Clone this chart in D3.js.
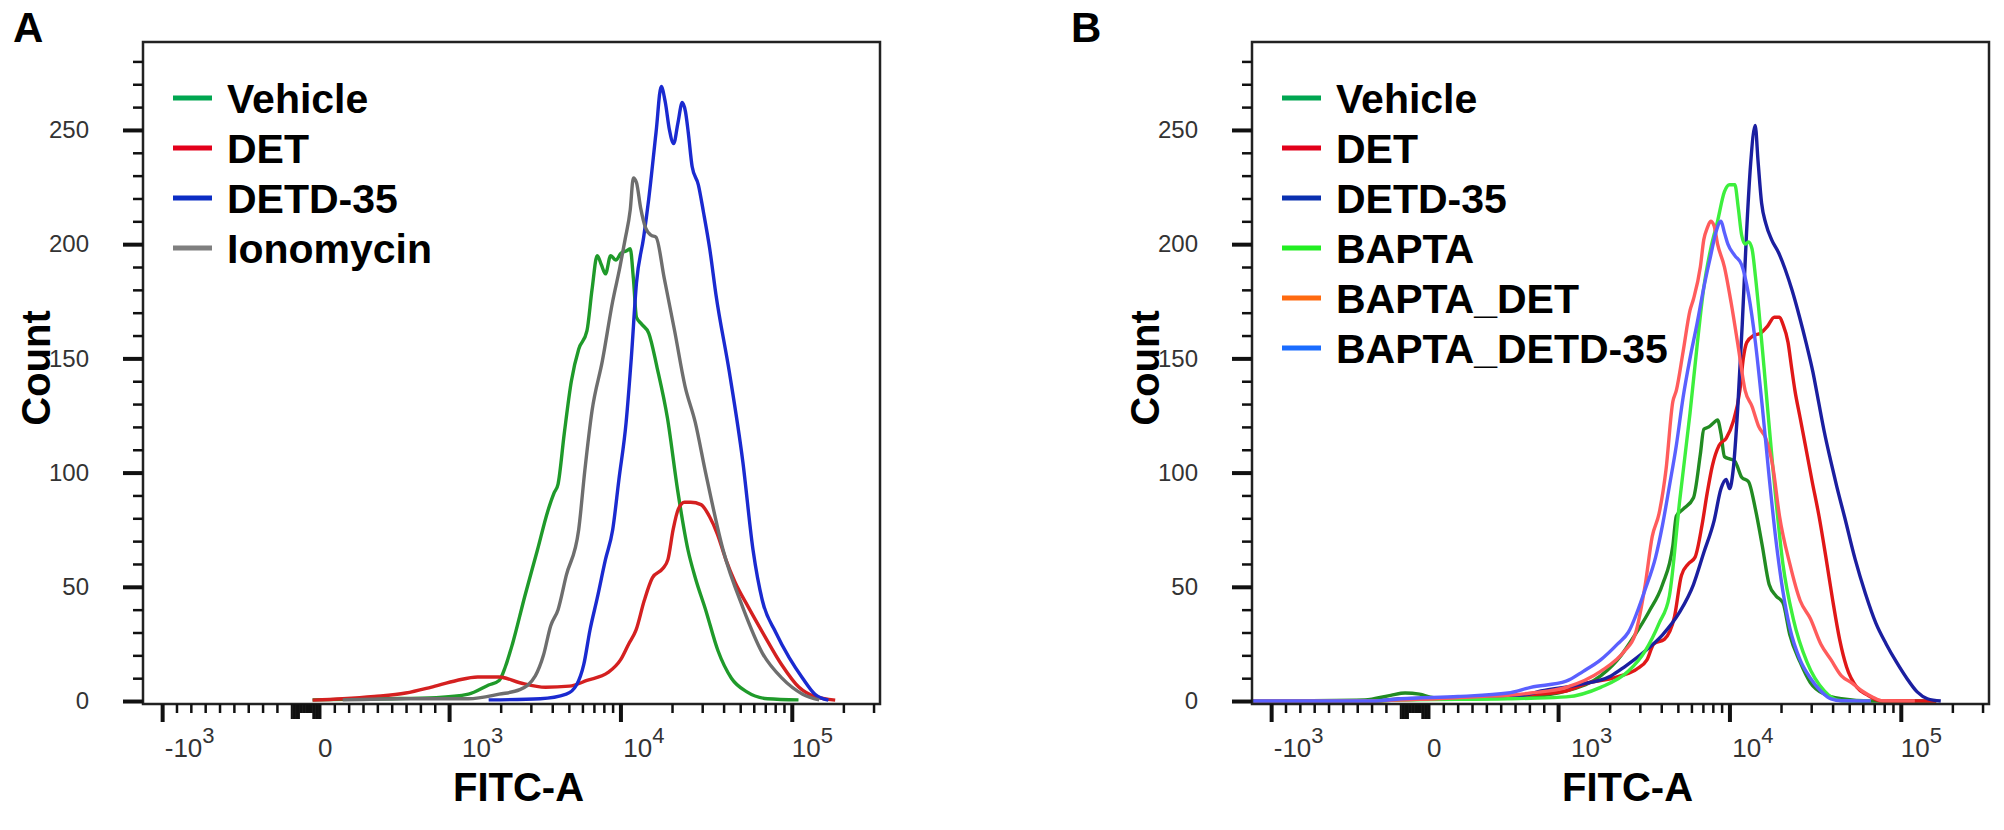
<!DOCTYPE html>
<html>
<head>
<meta charset="utf-8">
<script src="https://cdn.jsdelivr.net/npm/d3@7.9.0/dist/d3.min.js"></script>
<style>
  html, body { margin: 0; padding: 0; background: #fff; }
  svg { display: block; font-family: "Liberation Sans", Arial, sans-serif; }
</style>
</head>
<body>
<svg id="chart" width="2004" height="830"></svg>
<script>
// FITC-A histogram overlays (flow cytometry), two panels sharing one axis layout

// --- series names ---
const namesA = ["Vehicle", "DET", "DETD-35", "Ionomycin"];
const namesB = ["Vehicle", "DET", "DETD-35", "BAPTA", "BAPTA_DET", "BAPTA_DETD-35"];

// --- panel A curves: [FITC-A, count] ---
const vehicleA = [[45,0.5],[545,1],[906,1.5],[1288,3],[1690,7],[1947,9],[2115,15],[2328,25],[2750,46],[3253,66],[3737,83],[4067,91],[4296,95],[4667,117],[5135,140],[5667,154],[6331,162],[6778,180],[7270,195],[7685,191],[8125,187],[8708,195],[9336,193],[9998,196],[10720,197],[11330,198],[11820,185],[12320,168],[13200,165],[14540,161],[16250,146],[18670,124],[21450,92],[24640,66],[27150,54],[31190,40],[36850,22],[44130,10],[54340,4],[71700,1],[108700,0.5]];
const detA = [[45,0.4],[255,1],[475,2],[694,3.5],[868,6],[1099,9],[1459,10.5],[1947,10.5],[2568,8],[3630,6],[4994,6.5],[6331,9],[8420,12.5],[9939,18],[11100,25],[12240,31],[13680,44],[15280,54],[17550,58],[18810,62],[20160,75],[21610,84],[23500,87],[25520,87],[29320,86],[32750,81],[36590,73],[40910,62],[46350,52],[55510,41],[68330,29],[86520,16],[109500,6],[134900,2],[178000,0.4]];
const detd35A = [[1690,0.5],[3386,1],[4797,3],[5505,7],[6070,16],[6594,31],[7270,45],[8125,62],[8950,75],[9732,97],[10720,122],[11490,150],[12320,183],[13570,203],[14540,220],[16030,249],[17180,269],[18160,262],[19190,250],[20300,244],[21500,253],[22800,262],[23800,258],[24700,249],[26030,234],[28300,226],[30320,214],[32970,198],[35840,178],[42920,144],[51400,105],[59040,66],[66880,44],[80110,30],[95920,19],[114900,10],[135600,3],[162500,0.4]];
const ionomycinA = [[255,0.5],[694,1],[1288,1],[1947,3],[2568,5],[3164,11],[3529,20],[3892,33],[4296,40],[4797,55],[5667,75],[6156,101],[6778,127],[7796,149],[8950,175],[9865,190],[10570,202],[11330,215],[11820,229],[12320,227],[13020,216],[13950,207],[14950,204],[16030,203],[17900,185],[20580,162],[23630,138],[27150,122],[31190,100],[39500,66],[51400,41],[66880,21],[87040,10],[114900,3],[143500,0.5]];

// --- panel B curves: [FITC-A, count] ---
const vehicleB = [[-1302,0],[-350,0.5],[-170,2.5],[-70,3.5],[30,3],[130,1.5],[400,1],[700,1.5],[806,1.8],[1107,4.4],[1759,11],[2318,20],[2794,29],[3361,39],[4040,51],[4641,68],[4867,81],[5331,84],[6128,89],[6718,108],[7037,119],[7539,120],[8084,122],[8469,123],[8867,117],[9289,107],[9955,106],[10680,105],[11700,98],[12840,96],[14080,84],[15440,68],[16940,51],[18580,46],[20380,43],[22360,29],[25680,17],[29500,8],[35540,3],[44740,1],[66490,0],[160000,0]];
const detB = [[-1302,0],[-300,0],[-100,0.5],[209,1],[647,1.5],[806,2.7],[1107,4.4],[1495,8],[1970,9.6],[2375,11.3],[2857,14],[3278,18],[3596,25],[4137,27],[4747,37],[5209,55],[5710,60],[6261,63],[6871,77],[7364,91],[7896,103],[8653,112],[9503,115],[10420,122],[11430,136],[11970,150],[12540,157],[13760,160],[15100,161],[16540,164],[18150,168],[19450,168],[20370,165],[21830,157],[22890,146],[23940,136],[25680,124],[27540,112],[30210,96],[33090,81],[36300,63],[39810,44],[43660,27],[47890,15],[55020,6],[63230,2.7],[76100,0.1],[160000,0]];
const detd35B = [[-1302,0],[-300,0],[-100,1],[400,1.5],[750,2.5],[878,4.4],[1272,7],[2021,11],[2428,15],[3210,22],[4044,29],[5093,39],[6126,51],[7041,65],[8086,79],[8872,93],[9500,97],[9954,93],[10440,101],[11100,128],[11800,165],[12500,205],[13200,235],[14040,252],[14600,236],[15300,218],[16200,209],[17500,202],[19300,196],[21000,189],[23000,180],[25500,168],[28000,156],[30500,144],[32900,131],[35500,118],[38500,106],[42000,94],[46880,80],[53820,62],[61790,47],[71160,34],[81560,25],[93800,17],[107600,10],[123800,4],[142100,1],[170000,0]];
const baptaB = [[-1302,0],[-300,0],[-100,0.5],[647,1],[806,1.2],[1107,1.8],[1759,6],[2548,13],[3205,22],[3857,34],[4431,46],[5095,88],[5847,126],[6420,155],[7037,181],[7722,198],[8463,210],[9289,223],[9955,226],[10680,226],[11180,216],[11700,204],[12260,200],[12840,201],[13450,198],[14080,186],[14750,171],[15810,146],[17760,103],[20380,60],[23420,36],[28170,17],[35540,4.4],[44740,0.1],[66490,0]];
const baptaDetB = [[-1302,0],[-300,0],[-100,0.5],[150,1],[450,2],[647,2.5],[806,3.5],[1107,6],[1759,13],[2432,22],[2794,29],[3205,51],[3518,72],[3857,82],[4231,101],[4641,131],[4867,136],[5331,153],[5847,171],[6128,176],[6718,190],[7037,202],[7366,207],[7722,210],[8084,208],[8469,200],[9289,190],[10180,174],[11180,155],[12260,136],[13450,129],[14750,120],[16190,115],[17760,103],[19460,81],[22360,60],[25680,44],[29500,36],[33890,25],[38930,18],[44740,11],[51370,8],[59030,4.4],[67820,1.8],[77900,0.1],[120000,0]];
const baptaDetd35B = [[-1302,0],[-300,0],[-100,1],[300,2],[647,3.5],[806,6],[1107,8.7],[1393,13],[1759,18],[2212,25],[2548,30],[3205,49],[3684,63],[4040,77],[4431,94],[4867,112],[5331,133],[5847,150],[6420,165],[7037,181],[7722,195],[8268,205],[8867,210],[9289,205],[9730,200],[10680,195],[11700,191],[12840,178],[14080,157],[15440,129],[16940,98],[18580,70],[20380,48],[22360,32],[25680,18],[29500,10],[33890,4.4],[38930,0.9],[44740,0.1],[66490,0]];

// --- axis ticks and labels ---
const yMajorTicks = [0, 50, 100, 150, 200, 250];
const yMinorTicks = d3.range(10, 290, 10).filter(d => d % 50 !== 0);
const xLabelValues = [-1000, 0, 1000, 10000, 100000];
const xLabelBase = ["-10", "0", "10", "10", "10"];
const xLabelExp = ["3", "", "3", "4", "5"];
const xLabelShift = [27, 19, 33, 23, 20]; // label centre sits right of its tick

// --- colours ---
const legendColorsA = ["#00a650", "#e3001b", "#0b2dc4", "#7f7f7f"];
const curveColorsA = ["#1f9a2a", "#d42020", "#1a2ad0", "#6e6e6e"];
const legendColorsB = ["#00a651", "#e2001a", "#0a30b0", "#22ee22", "#ff6a10", "#1a6cff"];
const curveColorsB = ["#228b22", "#e01818", "#1b1fa0", "#3def3d", "#ff5c5c", "#5a60ff"];

// --- layout ---
const panels = [
  { letter: "A", letterX: 13, left: 143, names: namesA, data: [vehicleA, detA, detd35A, ionomycinA], legend: legendColorsA, curve: curveColorsA },
  { letter: "B", letterX: 1071, left: 1252, names: namesB, data: [vehicleB, detB, detd35B, baptaB, baptaDetB, baptaDetd35B], legend: legendColorsB, curve: curveColorsB }
];
const frameTop = 42, frameBottom = 704, frameWidth = 737;

// biexponential-style display: linear around zero, log above 10^3
const K = 139 / 166;
function biex(v) {
  const a = Math.abs(v);
  if (a <= 1000) return v / 1000 * K;
  return Math.sign(v) * (K + Math.log10(a / 1000));
}
const xMin = -1302, xMax = 325000;

const x = d3.scaleLinear().domain([biex(xMin), biex(xMax)]).range([0, frameWidth]);
const y = d3.scaleLinear().domain([-1.3, 288.5]).range([frameBottom, frameTop]);
const xp = v => x(biex(v));

// tick sets along the FITC-A axis
const xMajorTicks = [-1000, 1000, 10000, 100000];
let xBlobTall = [], xBlobShort = [], xMinorTicks = [];
for (let k = 10; k <= 100; k += 10) {
  (k >= 50 ? xBlobTall : xBlobShort).push(k, -k);
}
xBlobShort.push(0);
for (let k = 200; k <= 900; k += 100) xMinorTicks.push(k, -k);
for (let d of [1000, 10000]) for (let m = 2; m <= 9; m++) xMinorTicks.push(m * d);
xMinorTicks.push(200000, 300000);

const svg = d3.select("#chart");
svg.append("rect").attr("width", 2004).attr("height", 830).attr("fill", "#fff");

const line = d3.line()
  .x(d => xp(d[0]))
  .y(d => y(d[1]))
  .curve(d3.curveMonotoneX);

panels.forEach((p, pi) => {
  const g = svg.append("g").attr("transform", `translate(${p.left},0)`);

  svg.append("clipPath").attr("id", "clip" + pi)
    .append("rect").attr("x", 0).attr("y", frameTop).attr("width", frameWidth).attr("height", frameBottom - frameTop);

  // curves
  g.append("g").attr("clip-path", `url(#clip${pi})`)
    .selectAll("path")
    .data(p.data)
    .join("path")
    .attr("d", line)
    .attr("fill", "none")
    .attr("stroke", (d, i) => p.curve[i])
    .attr("stroke-width", 3.4)
    .attr("stroke-linejoin", "round");

  // frame
  g.append("rect")
    .attr("x", 0).attr("y", frameTop)
    .attr("width", frameWidth).attr("height", frameBottom - frameTop)
    .attr("fill", "none").attr("stroke", "#222").attr("stroke-width", 2.5);

  // y axis: minor then major ticks
  const yMinorAxis = d3.axisLeft(y).tickValues(yMinorTicks).tickSize(10).tickFormat("");
  const yMajorAxis = d3.axisLeft(y).tickValues(yMajorTicks).tickSize(20).tickPadding(34);
  const gyMinor = g.append("g").call(yMinorAxis);
  const gyMajor = g.append("g").call(yMajorAxis);
  gyMinor.select(".domain").remove();
  gyMajor.select(".domain").remove();
  gyMinor.selectAll("line").attr("stroke", "#111").attr("stroke-width", 2.5);
  gyMajor.selectAll("line").attr("stroke", "#111").attr("stroke-width", 4);
  gyMajor.selectAll("text")
    .attr("font-size", 24)
    .attr("font-family", "Liberation Sans, Arial, sans-serif")
    .attr("fill", "#333");

  // x axis ticks
  const gx = g.append("g").attr("transform", `translate(0,${frameBottom})`);
  const tickSets = [
    { ticks: xMinorTicks, len: 9, w: 2.5 },
    { ticks: xBlobShort, len: 9, w: 2 },
    { ticks: xBlobTall, len: 15, w: 2 },
    { ticks: xMajorTicks, len: 18, w: 4 }
  ];
  tickSets.forEach(s => {
    gx.append("g").selectAll("line")
      .data(s.ticks.filter(v => v >= xMin && v <= xMax))
      .join("line")
      .attr("x1", d => xp(d)).attr("x2", d => xp(d))
      .attr("y1", 0).attr("y2", s.len)
      .attr("stroke", "#111").attr("stroke-width", s.w);
  });

  // x tick labels with superscript exponents
  const labels = gx.append("g").selectAll("text")
    .data(xLabelValues)
    .join("text")
    .attr("x", (d, i) => xp(d) + xLabelShift[i])
    .attr("y", 53)
    .attr("text-anchor", "middle")
    .attr("font-size", 26)
    .attr("fill", "#333");
  labels.append("tspan").text((d, i) => xLabelBase[i]);
  labels.append("tspan")
    .attr("dy", -14)
    .attr("font-size", 22)
    .text((d, i) => xLabelExp[i]);

  // legend
  const lg = g.append("g");
  p.names.forEach((name, i) => {
    const ly = 98 + i * 50;
    lg.append("line")
      .attr("x1", 30).attr("x2", 69)
      .attr("y1", ly).attr("y2", ly)
      .attr("stroke", p.legend[i]).attr("stroke-width", 5);
    lg.append("text")
      .attr("x", 84).attr("y", ly)
      .attr("dy", "0.36em")
      .attr("font-size", 41)
      .attr("font-weight", "bold")
      .attr("fill", "#000")
      .text(name);
  });

  // axis titles
  g.append("text")
    .attr("x", frameWidth / 2 + 7)
    .attr("y", 801)
    .attr("text-anchor", "middle")
    .attr("font-size", 40)
    .attr("font-weight", "bold")
    .text("FITC-A");

  svg.append("text")
    .attr("transform", `translate(${p.left - 93},368) rotate(-90)`)
    .attr("text-anchor", "middle")
    .attr("font-size", 40)
    .attr("font-weight", "bold")
    .text("Count");

  // panel letter
  svg.append("text")
    .attr("x", p.letterX)
    .attr("y", 42)
    .attr("font-size", 42)
    .attr("font-weight", "bold")
    .text(p.letter);
});
</script>
</body>
</html>
